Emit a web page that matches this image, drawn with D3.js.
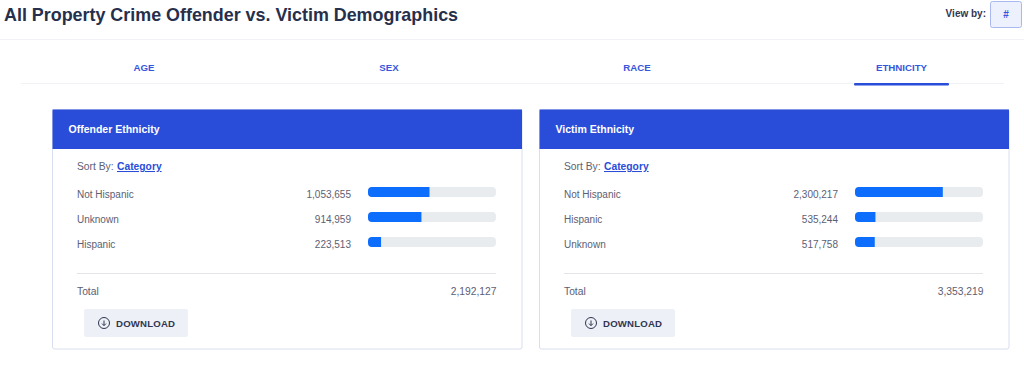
<!DOCTYPE html>
<html>
<head>
<meta charset="utf-8">
<script src="https://cdnjs.cloudflare.com/ajax/libs/d3/7.8.5/d3.min.js"></script>
<style>
html, body { margin: 0; padding: 0; background: #fff; overflow: hidden; }
text { font-family: "Liberation Sans", Arial, sans-serif; }
.title { font-size: 17.9px; font-weight: 700; fill: #262f4b; }
.tab { font-size: 9.7px; font-weight: 700; fill: #3557dc; text-anchor: middle; }
.head { font-size: 10.5px; font-weight: 700; fill: #fff; }
.lbl { font-size: 10px; fill: #5c6073; }
.total { font-size: 10.3px; fill: #5c6073; }
.link { font-size: 10.3px; font-weight: 700; fill: #2a4dd9; }
.dl { font-size: 9.6px; font-weight: 700; fill: #30364f; letter-spacing: 0.2px; }
</style>
</head>
<body>
<svg id="chart" width="1024" height="382"></svg>
<script>
const TITLE = 'All Property Crime Offender vs. Victim Demographics';
const TABS = ['AGE', 'SEX', 'RACE', 'ETHNICITY'];
const CARD_TITLES = ['Offender Ethnicity', 'Victim Ethnicity'];
const OFFENDER_CATS = ['Not Hispanic', 'Unknown', 'Hispanic'];
const OFFENDER_VALUES = [1053655, 914959, 223513];
const OFFENDER_TOTAL = 2192127;
const VICTIM_CATS = ['Not Hispanic', 'Hispanic', 'Unknown'];
const VICTIM_VALUES = [2300217, 535244, 517758];
const VICTIM_TOTAL = 3353219;

const BLUE = '#294dd9';
const BAR = '#0d6efd';
const TRACK = '#e9ecef';
const RULE = '#f1f2f5';
const fmt = d3.format(',');

const $svg = d3.select('#chart');

// page header
$svg.append('text').attr('class', 'title').attr('x', 4).attr('y', 20.5).text(TITLE);
$svg.append('text').attr('x', 986).attr('y', 17)
	.attr('text-anchor', 'end')
	.style('font-size', '10px').style('font-weight', 700).style('fill', '#30364f')
	.text('View by:');
$svg.append('rect')
	.attr('x', 990.5).attr('y', 1.5).attr('width', 31).attr('height', 26).attr('rx', 2)
	.attr('fill', '#edf1fd').attr('stroke', '#a9b9f0');
$svg.append('text').attr('x', 1006).attr('y', 18)
	.attr('text-anchor', 'middle')
	.style('font-size', '10px').style('font-weight', 700).style('fill', '#3557dc')
	.text('#');
$svg.append('line').attr('x1', 0).attr('x2', 1024).attr('y1', 39.5).attr('y2', 39.5).attr('stroke', RULE);

// tabs are sized by their content so the centres are not evenly spaced
const tabX = d3.scaleOrdinal().domain(TABS).range([144, 389, 637, 901.5]);
$svg.append('line').attr('x1', 21).attr('x2', 1004).attr('y1', 83.5).attr('y2', 83.5).attr('stroke', RULE);
$svg.selectAll('.tab').data(TABS).enter().append('text')
	.attr('class', 'tab')
	.attr('x', d => tabX(d))
	.attr('y', 71)
	.text(d => d);
$svg.append('rect')
	.attr('x', 854).attr('y', 83).attr('width', 95).attr('height', 2.5).attr('rx', 1)
	.attr('fill', BLUE);

function drawCard(x0, title, cats, values, total) {
	const $g = $svg.append('g').attr('transform', `translate(${x0}, 109)`);
	const w = 469.5;
	const h = 239.5;

	$g.append('rect')
		.attr('x', 0.5).attr('y', 0.5).attr('width', w).attr('height', h).attr('rx', 2)
		.attr('fill', '#fff').attr('stroke', '#d9deee');
	$g.append('rect')
		.attr('x', 0.5).attr('y', 0.5).attr('width', w).attr('height', 39.5)
		.attr('fill', BLUE);
	$g.append('text').attr('class', 'head').attr('x', 16.5).attr('y', 24).text(title);

	$g.append('text').attr('class', 'total').attr('x', 25).attr('y', 61).text('Sort By:');
	$g.append('text').attr('class', 'link').attr('x', 65).attr('y', 61)
		.style('text-decoration', 'underline')
		.text('Category');

	const y = d3.scaleBand().domain(cats).range([71, 146]);
	const x = d3.scaleLinear().domain([0, total]).range([0, 128]);
	const data = cats.map((c, i) => ({ c, v: values[i] }));

	const $rows = $g.selectAll('.row').data(data).enter().append('g')
		.attr('class', 'row')
		.attr('transform', d => `translate(0, ${y(d.c)})`);
	$rows.append('text').attr('class', 'lbl')
		.attr('x', 25).attr('y', 18)
		.text(d => d.c);
	$rows.append('text').attr('class', 'lbl')
		.attr('x', 299).attr('y', 18)
		.attr('text-anchor', 'end')
		.text(d => fmt(d.v));
	$rows.append('rect')
		.attr('x', 316).attr('y', 7).attr('width', x.range()[1]).attr('height', 10).attr('rx', 4)
		.attr('fill', TRACK);
	$rows.append('path')
		.attr('fill', BAR)
		.attr('d', d => {
			const p = d3.path();
			const r = 4;
			p.moveTo(316 + x(d.v), 7);
			p.lineTo(316 + r, 7);
			p.arcTo(316, 7, 316, 7 + r, r);
			p.lineTo(316, 17 - r);
			p.arcTo(316, 17, 316 + r, 17, r);
			p.lineTo(316 + x(d.v), 17);
			p.closePath();
			return p.toString();
		});

	$g.append('line').attr('x1', 25).attr('x2', 444).attr('y1', 164.5).attr('y2', 164.5).attr('stroke', '#e3e4e8');
	$g.append('text').attr('class', 'total').attr('x', 25).attr('y', 186).text('Total');
	$g.append('text').attr('class', 'total').attr('x', 444.5).attr('y', 186)
		.attr('text-anchor', 'end')
		.text(fmt(total));

	// download button
	const $b = $g.append('g').attr('transform', 'translate(32, 200)');
	$b.append('rect').attr('width', 104).attr('height', 28).attr('rx', 2).attr('fill', '#edf0f7');
	$b.append('circle').attr('cx', 20).attr('cy', 14).attr('r', 5.5)
		.attr('fill', 'none').attr('stroke', '#30364f').attr('stroke-width', 1);
	$b.append('path').attr('d', 'M20 11.5V16.5M18 14.6L20 16.6L22 14.6')
		.attr('fill', 'none').attr('stroke', '#30364f').attr('stroke-width', 1);
	$b.append('text').attr('class', 'dl').attr('x', 32).attr('y', 18).text('DOWNLOAD');
}

drawCard(52, CARD_TITLES[0], OFFENDER_CATS, OFFENDER_VALUES, OFFENDER_TOTAL);
drawCard(539, CARD_TITLES[1], VICTIM_CATS, VICTIM_VALUES, VICTIM_TOTAL);
</script>
</body>
</html>
